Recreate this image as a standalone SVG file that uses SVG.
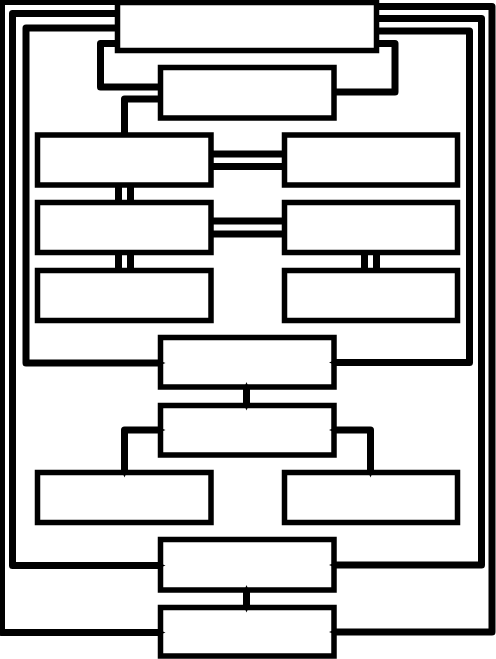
<svg xmlns="http://www.w3.org/2000/svg" width="496" height="659" viewBox="0 0 496 659">
<style>
.node rect{fill:#fff;stroke:#000;stroke-width:5.5}
.edge{fill:none;stroke:#000;stroke-width:7;stroke-linejoin:round}
.arr{marker-end:url(#tip)}
.both{marker-start:url(#tip);marker-end:url(#tip)}
</style>
<defs>
<marker id="tip" markerUnits="userSpaceOnUse" markerWidth="8" markerHeight="6" refX="0" refY="3" orient="auto-start-reverse" viewBox="0 0 8 6">
<path d="M0,1 L5,3 L0,5 Z" fill="#000"/>
</marker>
</defs>
<rect width="496" height="659" fill="#fff"/>
<g id="nodes">
<g id="n-a" class="node"><rect x="117.5" y="2.5" width="259" height="48"/></g>
<g id="n-b" class="node"><rect x="160.5" y="67.5" width="173.5" height="50.5"/></g>
<g id="n-c1" class="node"><rect x="37.5" y="135" width="173.5" height="50"/></g>
<g id="n-d1" class="node"><rect x="284.5" y="135" width="173" height="50"/></g>
<g id="n-c2" class="node"><rect x="37.5" y="202.5" width="173.5" height="50"/></g>
<g id="n-d2" class="node"><rect x="284.5" y="202.5" width="173" height="50"/></g>
<g id="n-c3" class="node"><rect x="37.5" y="270.5" width="173.5" height="50"/></g>
<g id="n-d3" class="node"><rect x="284.5" y="270.5" width="173" height="50"/></g>
<g id="n-e" class="node"><rect x="160.5" y="337.5" width="173.5" height="49.5"/></g>
<g id="n-f" class="node"><rect x="160.5" y="405.5" width="173.5" height="49.5"/></g>
<g id="n-g" class="node"><rect x="37.5" y="472.5" width="173.5" height="50"/></g>
<g id="n-h" class="node"><rect x="284.5" y="472.5" width="173" height="50"/></g>
<g id="n-i" class="node"><rect x="160.5" y="539.5" width="173.5" height="50.5"/></g>
<g id="n-j" class="node"><rect x="160.5" y="607.5" width="173.5" height="48.5"/></g>
</g>
<g id="connectors">
<path class="edge arr" d="M117.5,1.5 H1.5 V632.5 H160.5"/>
<path class="edge arr" d="M117.5,13.5 H12.5 V565.5 H160.5"/>
<path class="edge arr" d="M117.5,28 H26 V363 H160.5"/>
<path class="edge" d="M117.5,43.5 H100.5 V87 H160.5"/>
<path class="edge" d="M160.5,99 H124.5 V135"/>
<path class="edge arr" d="M376.5,6.5 H492 V632 H334"/>
<path class="edge arr" d="M376.5,18.5 H481.5 V565 H334"/>
<path class="edge arr" d="M376.5,31 H469.5 V362.5 H334"/>
<path class="edge" d="M376.5,43.5 H395 V92 H334"/>
<path class="edge" d="M211,154 H284.5"/>
<path class="edge" d="M211,166.5 H284.5"/>
<path class="edge" d="M211,221 H284.5"/>
<path class="edge" d="M211,234 H284.5"/>
<path class="edge" d="M118.5,185 V202.5"/>
<path class="edge" d="M130.5,185 V202.5"/>
<path class="edge" d="M118.5,252.5 V270.5"/>
<path class="edge" d="M130.5,252.5 V270.5"/>
<path class="edge" d="M364.5,252.5 V270.5"/>
<path class="edge" d="M376.5,252.5 V270.5"/>
<path class="edge both" d="M246.5,387 V405.5"/>
<path class="edge both" d="M160.5,430 H124.5 V472.5"/>
<path class="edge both" d="M334,430 H370.5 V472.5"/>
<path class="edge both" d="M246.5,590 V607.5"/>
</g>
</svg>
